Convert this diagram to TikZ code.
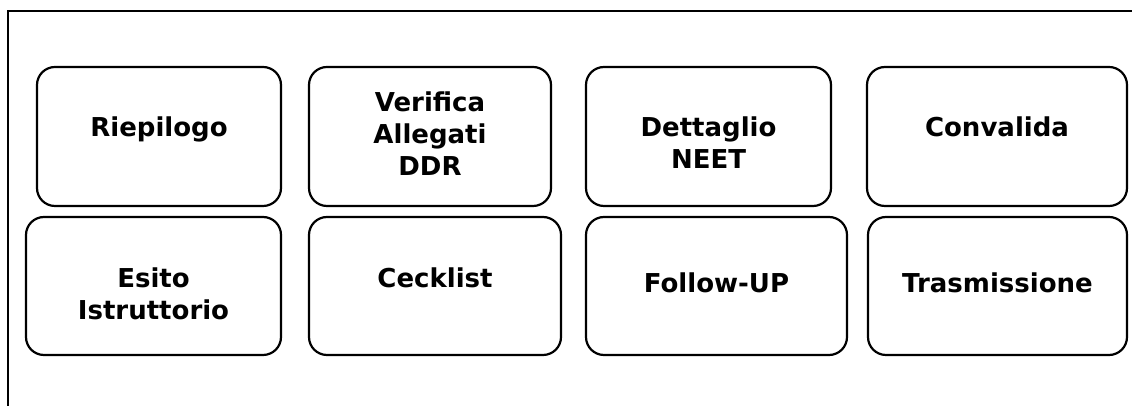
\documentclass[tikz,border=0pt]{standalone}
\usepackage{fontspec}
\setmainfont{DejaVu Sans}
\begin{document}
\begin{tikzpicture}[x=1pt,y=1pt,
  stepbox/.style={draw, line width=2.2pt, rounded corners=18pt, inner sep=0pt},
  lbl/.style={font=\bfseries\fontsize{26}{32}\selectfont, align=center, anchor=base, inner sep=0pt},
  frame/.style={line width=1.6pt}]
\useasboundingbox (0,0) rectangle (1132,406);
\coordinate (ftop) at (1132,395);
\coordinate (fcorner) at (8,395);
\coordinate (fbot) at (8,0);
\draw[frame] (ftop) -- (fcorner) -- (fbot);
% row 1
\node[stepbox, minimum width=244, minimum height=139] (rie) at (159,269.5) {};
\node[stepbox, minimum width=242, minimum height=139] (ver) at (430,269.5) {};
\node[stepbox, minimum width=245, minimum height=139] (det) at (708.5,269.5) {};
\node[stepbox, minimum width=260, minimum height=139] (con) at (997,269.5) {};
% row 2
\node[stepbox, minimum width=255, minimum height=138] (esi) at (153.5,120) {};
\node[stepbox, minimum width=252, minimum height=138] (cec) at (435,120) {};
\node[stepbox, minimum width=261, minimum height=138] (fol) at (716.5,120) {};
\node[stepbox, minimum width=259, minimum height=138] (tra) at (997.5,120) {};
% labels (base anchor = baseline of last line)
\node[lbl] (lrie) at (159,269) {Riepilogo};
\node[lbl] (lver) at (430,230) {Verifica\\Allegati\\DDR};
\node[lbl] (ldet) at (708.5,237) {Dettaglio\\NEET};
\node[lbl] (lcon) at (997,269) {Convalida};
\node[lbl] (lesi) at (153.5,86) {Esito\\Istruttorio};
\node[lbl] (lcec) at (435,118) {Cecklist};
\node[lbl] (lfol) at (716.5,113) {Follow-UP};
\node[lbl] (ltra) at (997.5,113) {Trasmissione};
\end{tikzpicture}
\end{document}
